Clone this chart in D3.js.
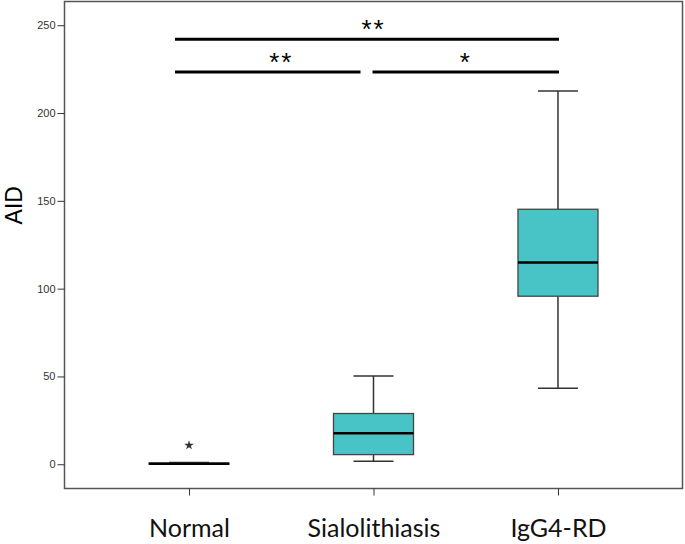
<!DOCTYPE html>
<html>
<head>
<meta charset="utf-8">
<script src="https://cdn.jsdelivr.net/npm/d3@7"></script>
<style>
  body { margin: 0; background: #fff; }
  .y.axis text { font-family: "Liberation Sans", Arial, sans-serif; font-size: 11px; fill: #333; }
  .x.axis text { font-family: Lato, "Open Sans", sans-serif; font-size: 25px; fill: #111; }
</style>
</head>
<body>
<script>
// groups and box statistics
var groups  = ["Normal", "Sialolithiasis", "IgG4-RD"];
var lowW    = [0, 1.7, 43.3];
var q1      = [0, 5.5, 95.7];
var median  = [0.3, 17.6, 114.9];
var q3      = [0.7, 28.9, 145.2];
var highW   = [1, 50.3, 212.6];
var outliers = [{g: "Normal", v: 10.8}];
var yTicks  = [0, 50, 100, 150, 200, 250];

// significance brackets
var sig = [
  {from: "Normal", to: "IgG4-RD", level: 242, label: "**"},
  {from: "Normal", to: "Sialolithiasis", level: 223.4, label: "**"},
  {from: "Sialolithiasis", to: "IgG4-RD", level: 223.4, label: "*"}
];

var margin = {top: 1.5, right: 2.5, bottom: 55.5, left: 64.5},
    width = 685 - margin.left - margin.right,
    height = 544 - margin.top - margin.bottom;

var svg = d3.select("body")
            .append("svg")
            .attr("width", 685)
            .attr("height", 544)
            .append("g")
            .attr("transform", "translate(" + margin.left + "," + margin.top + ")");

var x = d3.scalePoint()
          .domain(groups)
          .range([0, width])
          .padding(0.675);

var y = d3.scaleLinear()
          .domain([-13.8, 263.5])
          .range([height, 0]);

var boxW = 80, capW = 40;

// frame
svg.append("rect")
   .attr("width", width).attr("height", height)
   .attr("fill", "none").attr("stroke", "#555").attr("stroke-width", 1.5);

var yAxis = d3.axisLeft(y).tickValues(yTicks).tickSize(7).tickPadding(2);
var gy = svg.append("g").attr("class", "y axis").call(yAxis);
gy.select(".domain").remove();
gy.selectAll("line").attr("stroke", "#333");

var xAxis = d3.axisBottom(x).tickSize(7).tickPadding(24);
var gx = svg.append("g")
            .attr("class", "x axis")
            .attr("transform", "translate(0," + height + ")")
            .call(xAxis);
gx.select(".domain").remove();
gx.selectAll("line").attr("stroke", "#333");

// y label
svg.append("text")
   .attr("transform", "translate(" + (22 - margin.left) + "," + y(147.5) + ") rotate(-90)")
   .attr("text-anchor", "middle")
   .style("font-family", "'Liberation Sans', Arial, sans-serif")
   .style("font-size", "23px")
   .text("AID");

var boxes = groups.map(function(g, i) {
  return {g: g, lo: lowW[i], q1: q1[i], med: median[i], q3: q3[i], hi: highW[i]};
});

var b = svg.selectAll(".box").data(boxes).enter().append("g").attr("class", "box");

// whiskers
b.append("line")
 .attr("x1", d => x(d.g)).attr("x2", d => x(d.g))
 .attr("y1", d => y(d.hi)).attr("y2", d => y(d.lo))
 .attr("stroke", "#333").attr("stroke-width", 1.5);
b.append("line")
 .attr("x1", d => x(d.g) - capW / 2).attr("x2", d => x(d.g) + capW / 2)
 .attr("y1", d => y(d.hi)).attr("y2", d => y(d.hi))
 .attr("stroke", "#333").attr("stroke-width", 1.5);
b.append("line")
 .attr("x1", d => x(d.g) - capW / 2).attr("x2", d => x(d.g) + capW / 2)
 .attr("y1", d => y(d.lo)).attr("y2", d => y(d.lo))
 .attr("stroke", "#333").attr("stroke-width", 1.5);

// box
b.append("rect")
 .attr("x", d => x(d.g) - boxW / 2)
 .attr("width", boxW)
 .attr("y", d => y(d.q3))
 .attr("height", d => y(d.q1) - y(d.q3))
 .attr("fill", "#48c4c6")
 .attr("stroke", "#444")
 .attr("stroke-width", 1.3);

// median
b.append("line")
 .attr("x1", d => x(d.g) - boxW / 2).attr("x2", d => x(d.g) + boxW / 2)
 .attr("y1", d => y(d.med)).attr("y2", d => y(d.med))
 .attr("stroke", "#000").attr("stroke-width", 2.5);

// outliers
svg.selectAll(".outlier").data(outliers).enter()
   .append("path")
   .attr("class", "outlier")
   .attr("d", d3.symbol(d3.symbolStar, 28))
   .attr("transform", d => "translate(" + x(d.g) + "," + y(d.v) + ")")
   .attr("fill", "#333");

// significance bars
var sg = svg.selectAll(".sig").data(sig).enter().append("g").attr("class", "sig");
sg.append("line")
  .attr("x1", d => x(d.from) - 14 + (d.from === "Sialolithiasis" ? 13 : 0))
  .attr("x2", d => x(d.to) + (d.to === "Sialolithiasis" ? -13 : 1))
  .attr("y1", d => y(d.level)).attr("y2", d => y(d.level))
  .attr("stroke", "#000").attr("stroke-width", 3);
sg.append("text")
  .attr("x", d => (x(d.from) + x(d.to)) / 2)
  .attr("y", d => y(d.level) - 1)
  .attr("text-anchor", "middle")
  .style("font-family", "'Liberation Sans', Arial, sans-serif")
  .style("font-size", "26px")
  .style("letter-spacing", "2px")
  .text(d => d.label);
</script>
</body>
</html>
